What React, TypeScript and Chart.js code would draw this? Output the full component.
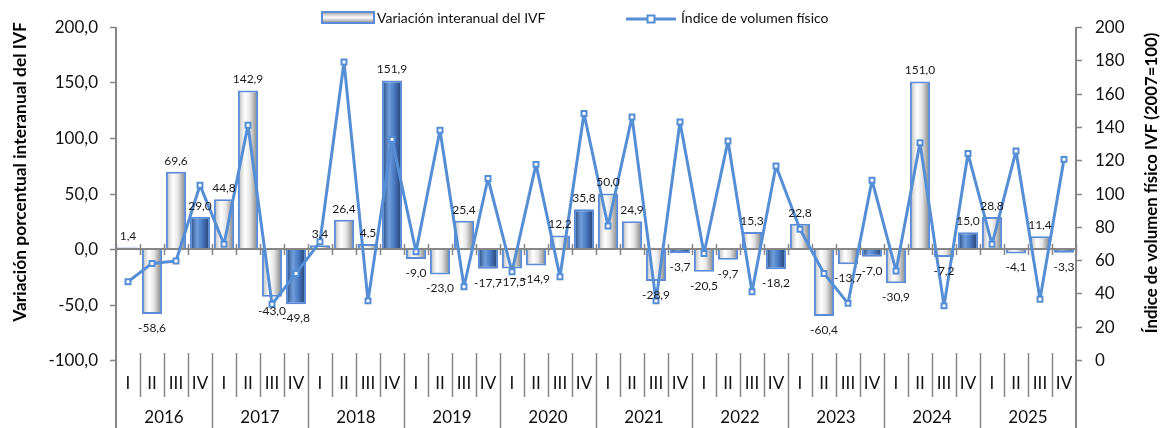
import { useEffect, useRef } from "react";
import { Chart, registerables } from "chart.js";

Chart.register(...registerables);

const years = ["2016", "2017", "2018", "2019", "2020", "2021", "2022", "2023", "2024", "2025"];
const quarters = ["I", "II", "III", "IV"];
const categories = years.flatMap((y) => quarters.map((q) => `${q} ${y}`));

const variation = [
  1.4, -58.6, 69.6, 29.0,
  44.8, 142.9, -43.0, -49.8,
  3.4, 26.4, 4.5, 151.9,
  -9.0, -23.0, 25.4, -17.7,
  -17.5, -14.9, 12.2, 35.8,
  50.0, 24.9, -28.9, -3.7,
  -20.5, -9.7, 15.3, -18.2,
  22.8, -60.4, -13.7, -7.0,
  -30.9, 151.0, -7.2, 15.0,
  28.8, -4.1, 11.4, -3.3,
];

const volumeIndex = [
  47, 58, 59.5, 105,
  69.5, 141, 33.5, 52,
  71, 179, 35.5, 132.5,
  65, 138, 44, 109,
  53, 117.5, 50, 148,
  80.5, 146, 35.5, 143,
  64, 131.5, 41, 116.5,
  78.5, 52, 34, 108,
  53.5, 130.5, 32.5, 124,
  69.5, 125.5, 36.5, 120.5,
];

const leftTicks = [200, 150, 100, 50, 0, -50, -100];
const rightTicks = [200, 180, 160, 140, 120, 100, 80, 60, 40, 20, 0];

const barLabel = "Variación interanual del IVF";
const lineLabel = "Índice de volumen físico";
const leftTitle = "Variación porcentual interanual del IVF";
const rightTitle = "Índice de volumen físico IVF (2007=100)";

const AXIS = "#868686";
const BLUE = "#558ED5";
const BAR_BORDER = "#5B8BD6";
const FONT = "Lato, 'Open Sans', sans-serif";

const fmt = (v: number) => v.toFixed(1).replace(".", ",");

export default function App() {
  const ref = useRef<HTMLCanvasElement | null>(null);

  useEffect(() => {
    document.body.style.margin = "0";
    const canvas = ref.current;
    if (!canvas) return;

    const barPct = 0.84;

    const barFill = (c: any) => {
      const chart = c.chart;
      const idx = c.dataIndex;
      const blue = idx !== undefined && idx % 4 === 3;
      if (!chart.chartArea || idx === undefined) return blue ? "#3E6BB0" : "#DDDDDD";
      const xs = chart.scales.x;
      const cx = xs.getPixelForValue(idx);
      const w = (xs.width / categories.length) * barPct;
      const g = chart.ctx.createLinearGradient(cx - w / 2, 0, cx + w / 2, 0);
      if (blue) {
        g.addColorStop(0, "#234478");
        g.addColorStop(0.35, "#6F9EDD");
        g.addColorStop(0.6, "#4C7CC4");
        g.addColorStop(1, "#1E3C6C");
      } else {
        g.addColorStop(0, "#B8B8B8");
        g.addColorStop(0.35, "#FFFFFF");
        g.addColorStop(0.6, "#E6E6E6");
        g.addColorStop(1, "#7A7A7A");
      }
      return g;
    };

    const decor = {
      id: "decor",
      beforeDatasetDraw(chart: any, args: any) {
        if (args.index !== 1) return;
        const { ctx, chartArea } = chart;
        const xs = chart.scales.x;
        const y0 = chart.scales.y.getPixelForValue(0);
        const catW = xs.width / categories.length;
        ctx.save();
        ctx.strokeStyle = AXIS;
        ctx.lineWidth = 2;
        ctx.beginPath();
        ctx.moveTo(chartArea.left, y0);
        ctx.lineTo(chartArea.right, y0);
        ctx.stroke();
        ctx.lineWidth = 1.5;
        for (let k = 0; k <= categories.length; k++) {
          const x = Math.round(chartArea.left + k * catW) + 0.5;
          ctx.beginPath();
          ctx.moveTo(x, y0 - 5);
          ctx.lineTo(x, y0 + 6);
          ctx.stroke();
        }
        ctx.restore();
      },
      afterDatasetsDraw(chart: any) {
        const { ctx } = chart;
        const meta = chart.getDatasetMeta(0);
        ctx.save();
        ctx.font = `12px ${FONT}`;
        ctx.fillStyle = "#1a1a1a";
        ctx.textAlign = "center";
        meta.data.forEach((bar: any, i: number) => {
          const v = variation[i];
          if (v >= 0) {
            ctx.textBaseline = "bottom";
            ctx.fillText(fmt(v), bar.x, bar.y - 5);
          } else {
            ctx.textBaseline = "top";
            ctx.fillText(fmt(v), bar.x, bar.y + 8);
          }
        });
        ctx.restore();
      },
      afterDraw(chart: any) {
        const { ctx, chartArea } = chart;
        const { left, right, top, bottom } = chartArea;
        const H = chart.height;
        const ys = chart.scales.y;
        const y1 = chart.scales.y1;
        const catW = (right - left) / categories.length;
        ctx.save();

        // axis lines
        ctx.strokeStyle = AXIS;
        ctx.lineWidth = 2;
        ctx.beginPath();
        ctx.moveTo(left, top);
        ctx.lineTo(left, H);
        ctx.moveTo(right, top);
        ctx.lineTo(right, H);
        ctx.stroke();

        // left ticks
        ctx.lineWidth = 1.5;
        ctx.fillStyle = "#111";
        ctx.font = `17px ${FONT}`;
        ctx.textBaseline = "middle";
        ctx.textAlign = "right";
        leftTicks.forEach((t) => {
          const y = Math.round(ys.getPixelForValue(t)) + 0.5;
          ctx.beginPath();
          ctx.moveTo(left - 6, y);
          ctx.lineTo(left, y);
          ctx.stroke();
          ctx.fillText(fmt(t), left - 18, y);
        });
        // right ticks
        ctx.textAlign = "left";
        rightTicks.forEach((t) => {
          const y = Math.round(y1.getPixelForValue(t)) + 0.5;
          ctx.beginPath();
          ctx.moveTo(right, y);
          ctx.lineTo(right + 6, y);
          ctx.stroke();
          ctx.fillText(String(t), right + 19, y);
        });

        // category separators
        for (let k = 1; k < categories.length; k++) {
          const x = Math.round(left + k * catW) + 0.5;
          ctx.beginPath();
          ctx.moveTo(x, bottom - 7);
          ctx.lineTo(x, k % 4 === 0 ? H : bottom + 37);
          ctx.stroke();
        }
        ctx.textAlign = "center";
        categories.forEach((c, i) => {
          const x = left + (i + 0.5) * catW;
          ctx.fillText(quarters[i % 4], x, bottom + 24);
        });
        years.forEach((y, i) => {
          const x = left + (i * 4 + 2) * catW;
          ctx.fillText(y, x, H - 10);
        });

        // titles
        const fitFont = (text: string, target: number) => {
          ctx.font = `bold 15px ${FONT}`;
          const w = ctx.measureText(text).width;
          return `bold ${(15 * target) / w}px ${FONT}`;
        };
        ctx.fillStyle = "#000";
        ctx.save();
        ctx.font = fitFont(leftTitle, 300);
        ctx.translate(20, 172);
        ctx.rotate(-Math.PI / 2);
        ctx.fillText(leftTitle, 0, 0);
        ctx.restore();
        ctx.save();
        ctx.font = fitFont(rightTitle, 301);
        ctx.translate(1152, 183);
        ctx.rotate(-Math.PI / 2);
        ctx.fillText(rightTitle, 0, 0);
        ctx.restore();

        // legend
        const lg = ctx.createLinearGradient(0, 12, 0, 23);
        lg.addColorStop(0, "#A0A0A0");
        lg.addColorStop(0.5, "#FFFFFF");
        lg.addColorStop(1, "#8A8A8A");
        ctx.fillStyle = lg;
        ctx.fillRect(322, 12, 52, 11);
        ctx.strokeStyle = BAR_BORDER;
        ctx.lineWidth = 2;
        ctx.strokeRect(322, 12, 52, 11);
        ctx.fillStyle = "#111";
        ctx.font = `14px ${FONT}`;
        ctx.textAlign = "left";
        ctx.textBaseline = "middle";
        ctx.fillText(barLabel, 377, 18);

        ctx.strokeStyle = BLUE;
        ctx.lineWidth = 3;
        ctx.beginPath();
        ctx.moveTo(626, 19);
        ctx.lineTo(676, 19);
        ctx.stroke();
        ctx.fillStyle = "#fff";
        ctx.lineWidth = 2;
        ctx.fillRect(647.5, 15.5, 7, 7);
        ctx.strokeRect(647.5, 15.5, 7, 7);
        ctx.fillStyle = "#111";
        ctx.fillText(lineLabel, 681, 18);

        ctx.restore();
      },
    };

    const chart = new Chart(canvas, {
      type: "bar",
      data: {
        labels: categories,
        datasets: [
          {
            type: "bar",
            label: barLabel,
            data: variation,
            yAxisID: "y",
            backgroundColor: barFill as any,
            borderColor: BAR_BORDER,
            borderWidth: 2,
            barPercentage: barPct,
            categoryPercentage: 1,
            order: 2,
          },
          {
            type: "line",
            label: lineLabel,
            data: volumeIndex,
            yAxisID: "y1",
            borderColor: BLUE,
            borderWidth: 3,
            borderJoinStyle: "round",
            borderCapStyle: "round",
            tension: 0,
            pointStyle: "rect",
            pointRadius: 3.5,
            pointBackgroundColor: "#FFFFFF",
            pointBorderColor: BLUE,
            pointBorderWidth: 2,
            order: 1,
          } as any,
        ],
      },
      options: {
        responsive: false,
        animation: false,
        devicePixelRatio: 1,
        layout: { padding: { left: 116, right: 88, top: 27, bottom: 68 } },
        plugins: { legend: { display: false }, tooltip: { enabled: false } },
        scales: {
          x: { display: false, offset: true },
          y: { display: false, min: -100, max: 200 },
          y1: { display: false, min: 0, max: 200, position: "right" },
        },
      },
      plugins: [decor],
    });

    return () => chart.destroy();
  }, []);

  return <canvas ref={ref} width={1164} height={428} style={{ display: "block" }} />;
}
